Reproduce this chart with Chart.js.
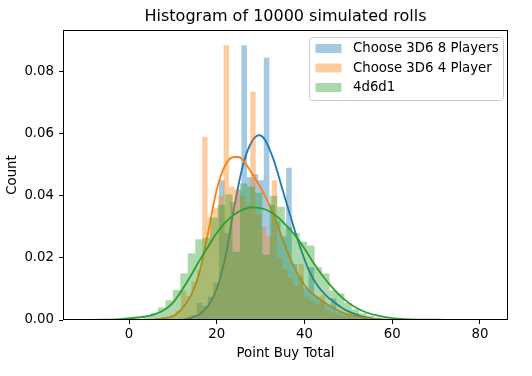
<!DOCTYPE html>
<html>
<head>
<meta charset="utf-8">
<script src="https://cdn.jsdelivr.net/npm/chart.js@4.4.1/dist/chart.umd.min.js"></script>
<style>
  html, body { margin: 0; padding: 0; background: #fff; }
  canvas { display: block; }
</style>
</head>
<body>
<canvas id="chart" width="532" height="376"></canvas>
<script>
// histogram bins: first bin edge, bin width, then density of each bin
const blueEdge0 = 11.6, blueWidth = 1.275;
const blueHist = [0.0002, 0.0004, 0.0008, 0.0016, 0.0055, 0.0047, 0.0075, 0.0120, 0.0450, 0.0280,
  0.0380, 0.0420, 0.0885, 0.0460, 0.0470, 0.0450, 0.0845, 0.0370, 0.0320, 0.0270,
  0.0490, 0.0180, 0.0140, 0.0105, 0.0170, 0.0075, 0.0060, 0.0048, 0.0070, 0.0026,
  0.0020, 0.0014, 0.0020, 0.0007, 0.0004, 0.0002, 0.0001];

const orangeEdge0 = 8.14, orangeWidth = 1.22;
const orangeHist = [0.0010, 0.0008, 0.0016, 0.0029, 0.0095, 0.0078, 0.0123, 0.0160, 0.0590, 0.0330,
  0.0360, 0.0400, 0.0885, 0.0430, 0.0420, 0.0400, 0.0370, 0.0735, 0.0340, 0.0300,
  0.0270, 0.0450, 0.0200, 0.0165, 0.0135, 0.0110, 0.0180, 0.0075, 0.0062, 0.0050,
  0.0080, 0.0031, 0.0025, 0.0018, 0.0014, 0.0020, 0.0008, 0.0005, 0.0003, 0.0002];

const greenEdge0 = 3.2, greenWidth = 1.7;
const greenHist = [0.0004, 0.0012, 0.0022, 0.0040, 0.0064, 0.0097, 0.0150, 0.0215, 0.0260, 0.0265,
  0.0330, 0.0370, 0.0405, 0.0220, 0.0440, 0.0430, 0.0410, 0.0210, 0.0400, 0.0365,
  0.0300, 0.0280, 0.0252, 0.0240, 0.0170, 0.0150, 0.0095, 0.0085, 0.0055, 0.0035,
  0.0022, 0.0014, 0.0008, 0.0005, 0.0003, 0.0002, 0.0001, 0.0001];

// kde curves
const blueKdeX = [12, 14, 16, 18, 20, 22, 24, 26, 28, 29.7, 31, 33, 35, 37, 39, 41, 43, 45, 47, 49, 51, 53, 55, 57, 59];
const blueKdeY = [0, 0.0007, 0.0018, 0.0045, 0.0100, 0.0205, 0.0365, 0.0500, 0.0575, 0.0595, 0.0580, 0.0515, 0.0420,
  0.0325, 0.0235, 0.0160, 0.0110, 0.0078, 0.0055, 0.0035, 0.0022, 0.0012, 0.0006, 0.0002, 0];

const orangeKdeX = [4, 6, 8, 10, 12, 14, 16, 18, 20, 22, 24, 25, 27, 29, 31, 33, 35, 37, 39, 41, 43, 45, 47, 49, 51, 53, 56, 60];
const orangeKdeY = [0, 0.0002, 0.0006, 0.0012, 0.0035, 0.0075, 0.0150, 0.0280, 0.0420, 0.0500, 0.0525, 0.0525, 0.0495,
  0.0450, 0.0400, 0.0340, 0.0260, 0.0190, 0.0134, 0.0095, 0.0072, 0.0052, 0.0035, 0.0022, 0.0014, 0.0008, 0.0003, 0];

const greenKdeX = [-10, -6, -2, 2, 5, 8, 10, 12, 14, 16, 18, 20, 22, 24, 26, 28, 30, 32, 34, 36, 38, 40, 42, 44, 46, 48,
  50, 52, 54, 57, 60, 64, 70, 76, 82];
const greenKdeY = [0, 0.0001, 0.0003, 0.0008, 0.0015, 0.0032, 0.0055, 0.0095, 0.0140, 0.0190, 0.0235, 0.0280, 0.0315,
  0.0340, 0.0356, 0.0363, 0.0360, 0.0350, 0.0330, 0.0302, 0.0270, 0.0230, 0.0185, 0.0145, 0.0110, 0.0080,
  0.0056, 0.0038, 0.0025, 0.0013, 0.0006, 0.0002, 0.0001, 0, 0];

const seriesNames = ['Choose 3D6 8 Players', 'Choose 3D6 4 Player', '4d6d1'];
const xTicks = [0, 20, 40, 60, 80];
const yTicks = [0, 0.02, 0.04, 0.06, 0.08];

const palette = ['31, 119, 180', '255, 127, 14', '44, 160, 44'];
const FONT = 'DejaVu Sans';
const TEXT_SIZE = 13.3;

Chart.defaults.font.family = FONT;
Chart.defaults.color = '#000';

function histSteps(edge0, width, heights) {
  const pts = [{x: edge0, y: 0}];
  heights.forEach((h, i) => pts.push({x: edge0 + i * width, y: h}));
  pts.push({x: edge0 + heights.length * width, y: 0});
  return pts;
}

function histDataset(i, edge0, width, heights, order) {
  return {
    label: seriesNames[i],
    data: histSteps(edge0, width, heights),
    stepped: 'after',
    fill: 'origin',
    backgroundColor: `rgba(${palette[i]}, 0.4)`,
    borderColor: 'rgba(0,0,0,0)',
    borderWidth: 0,
    pointRadius: 0,
    order: order
  };
}

function kdeDataset(i, xs, ys, order) {
  return {
    label: seriesNames[i] + ' kde',
    data: xs.map((x, k) => ({x: x, y: ys[k]})),
    borderColor: `rgb(${palette[i]})`,
    borderWidth: 1.8,
    pointRadius: 0,
    fill: false,
    cubicInterpolationMode: 'monotone',
    order: order
  };
}

// frame on all four sides, like the matplotlib spines
const frame = {
  id: 'frame',
  afterDatasetsDraw(chart) {
    const {ctx, chartArea: a} = chart;
    ctx.save();
    ctx.strokeStyle = '#000';
    ctx.lineWidth = 1;
    ctx.strokeRect(Math.round(a.left) + 0.5, Math.round(a.top) + 0.5,
      Math.round(a.right - a.left) - 1, Math.round(a.bottom - a.top) - 1);
    ctx.restore();
  }
};

const legendBox = {
  id: 'legendBox',
  afterDraw(chart) {
    const {ctx, chartArea: a} = chart;
    const w = 194, h = 63;
    const x = a.right - w - 4.5, y = a.top + 7.5;
    ctx.save();
    ctx.beginPath();
    ctx.roundRect(x, y, w, h, 3);
    ctx.fillStyle = 'rgba(255,255,255,0.8)';
    ctx.fill();
    ctx.strokeStyle = '#cccccc';
    ctx.lineWidth = 1;
    ctx.stroke();
    ctx.font = `${TEXT_SIZE}px "${FONT}"`;
    ctx.textBaseline = 'middle';
    seriesNames.forEach((name, i) => {
      const cy = y + 11 + i * 19.5;
      ctx.fillStyle = `rgba(${palette[i]}, 0.4)`;
      ctx.fillRect(x + 6, cy - 4.5, 26, 9);
      ctx.fillStyle = '#000';
      ctx.fillText(name, x + 43.5, cy + 0.5);
    });
    ctx.restore();
  }
};

const tickFont = {family: FONT, size: TEXT_SIZE};

new Chart(document.getElementById('chart'), {
  type: 'line',
  data: {
    datasets: [
      histDataset(0, blueEdge0, blueWidth, blueHist, 6),
      kdeDataset(0, blueKdeX, blueKdeY, 5),
      histDataset(1, orangeEdge0, orangeWidth, orangeHist, 4),
      kdeDataset(1, orangeKdeX, orangeKdeY, 3),
      histDataset(2, greenEdge0, greenWidth, greenHist, 2),
      kdeDataset(2, greenKdeX, greenKdeY, 1)
    ]
  },
  options: {
    responsive: false,
    animation: false,
    layout: { padding: {left: 0, right: 24, top: 0, bottom: 0} },
    plugins: {
      legend: { display: false },
      tooltip: { enabled: false },
      title: {
        display: true,
        text: 'Histogram of 10000 simulated rolls',
        fullSize: false,
        color: '#000',
        font: {family: FONT, size: 16, weight: 'normal'},
        padding: {top: 7.4, bottom: 3.4}
      }
    },
    scales: {
      x: {
        type: 'linear',
        min: -15.05,
        max: 86.4,
        afterBuildTicks: s => { s.ticks = xTicks.map(v => ({value: v})); },
        afterFit: s => { s.height = 56; },
        grid: { drawOnChartArea: false, drawTicks: true, tickLength: 4, color: '#000' },
        border: { display: false },
        ticks: { color: '#000', font: tickFont, padding: 3, maxRotation: 0, autoSkip: false,
          callback: v => String(v) },
        title: { display: true, text: 'Point Buy Total', color: '#000', font: tickFont,
          padding: {top: 0, bottom: 14} }
      },
      y: {
        min: 0,
        max: 0.0934,
        afterBuildTicks: s => { s.ticks = yTicks.map(v => ({value: v})); },
        afterFit: s => { s.width = 63; },
        grid: { drawOnChartArea: false, drawTicks: true, tickLength: 4, color: '#000' },
        border: { display: false },
        ticks: { color: '#000', font: tickFont, padding: 5, autoSkip: false,
          callback: v => v.toFixed(2) },
        title: { display: true, text: 'Count', color: '#000', font: tickFont,
          padding: {top: 5, bottom: 0} }
      }
    }
  },
  plugins: [frame, legendBox]
});
</script>
</body>
</html>
